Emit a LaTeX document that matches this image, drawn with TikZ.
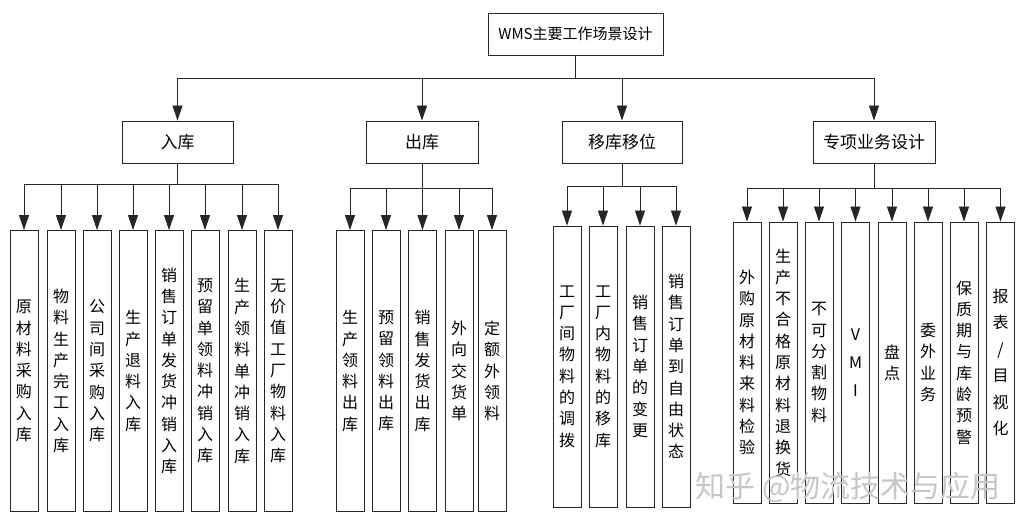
\documentclass[tikz,border=0pt]{standalone}
\usepackage{fontspec}
\newfontfamily\cjk{Noto Sans CJK SC}
\usetikzlibrary{arrows.meta}
\begin{document}
\begin{tikzpicture}[x=1pt,y=-1pt,
  box/.style={draw=black!85, line width=0.9pt, inner sep=0pt, minimum height=42pt, font=\cjk\fontsize{17}{20}\selectfont},
  leaf/.style={draw=black!85, line width=0.9pt, inner sep=0pt, minimum width=28pt, minimum height=281pt, align=center, font=\cjk\fontsize{16}{21.3}\selectfont},
  arr/.style={draw=black!85, line width=0.9pt, -{Triangle[width=10pt,length=15pt]}},
  wmark/.style={text=black!22, font=\cjk\fontsize{30}{32}\selectfont, inner sep=0pt}]
\useasboundingbox[fill=white] (0,0) rectangle (1031,526);

% root and level 2
\node[box, minimum width=175pt, font=\cjk\fontsize{15}{18}\selectfont] (root) at (575.5,34) {WMS主要工作场景设计};
\node[box, minimum width=111pt] (in)  at (177.5,142) {入库};
\node[box, minimum width=112pt] (out) at (422,142) {出库};
\node[box, minimum width=120pt] (mv)  at (622,142) {移库移位};
\node[box, minimum width=122pt] (sp)  at (874,142) {专项业务设计};

\foreach \c in {in,out,mv,sp} \draw[arr] (root.south) -- ++(0,23) -| (\c.north);

% 入库 leaves
\node[leaf] (i1) at (24,371)  {原\\材\\料\\采\\购\\入\\库};
\node[leaf] (i2) at (61,371)  {物\\料\\生\\产\\完\\工\\入\\库};
\node[leaf] (i3) at (97,371)  {公\\司\\间\\采\\购\\入\\库};
\node[leaf] (i4) at (133,371) {生\\产\\退\\料\\入\\库};
\node[leaf] (i5) at (169,371) {销\\售\\订\\单\\发\\货\\冲\\销\\入\\库};
\node[leaf] (i6) at (205,371) {预\\留\\单\\领\\料\\冲\\销\\入\\库};
\node[leaf] (i7) at (242,371) {生\\产\\领\\料\\单\\冲\\销\\入\\库};
\node[leaf] (i8) at (278,371) {无\\价\\值\\工\\厂\\物\\料\\入\\库};
\foreach \c in {i1,i2,i3,i4,i5,i6,i7,i8} \draw[arr] (in.south) -- ++(0,21) -| (\c.north);

% 出库 leaves
\node[leaf] (o1) at (350,371)   {生\\产\\领\\料\\出\\库};
\node[leaf] (o2) at (386,371)   {预\\留\\领\\料\\出\\库};
\node[leaf] (o3) at (422.5,371) {销\\售\\发\\货\\出\\库};
\node[leaf] (o4) at (459,371)   {外\\向\\交\\货\\单};
\node[leaf] (o5) at (492,371)   {定\\额\\外\\领\\料};
\foreach \c in {o1,o2,o3,o4,o5} \draw[arr] (out.south) -- ++(0,25) -| (\c.north);

% 移库移位 leaves
\node[leaf] (m1) at (567,366.5) {工\\厂\\间\\物\\料\\的\\调\\拨};
\node[leaf] (m2) at (603,366.5) {工\\厂\\内\\物\\料\\的\\移\\库};
\node[leaf] (m3) at (640,366.5) {销\\售\\订\\单\\的\\变\\更};
\node[leaf] (m4) at (676,366.5) {销\\售\\订\\单\\到\\自\\由\\状\\态};
\foreach \c in {m1,m2,m3,m4} \draw[arr] (mv.south) -- ++(0,23) -| (\c.north);

% 专项业务设计 leaves
\node[leaf] (s1) at (747,362.5)   {外\\购\\原\\材\\料\\来\\料\\检\\验};
\node[leaf] (s2) at (783,362.5)   {生\\产\\不\\合\\格\\原\\材\\料\\退\\换\\货};
\node[leaf] (s3) at (819,362.5)   {不\\可\\分\\割\\物\\料};
\node[leaf, font=\cjk\fontsize{16}{28}\selectfont] (s4) at (855.5,362.5) {V\\M\\I};
\node[leaf] (s5) at (892,362.5)   {盘\\点};
\node[leaf] (s6) at (928,362.5)   {委\\外\\业\\务};
\node[leaf] (s7) at (964,362.5)   {保\\质\\期\\与\\库\\龄\\预\\警};
\node[leaf, font=\cjk\fontsize{16}{26.5}\selectfont] (s8) at (1000.5,362.5) {报\\表\\/\\目\\视\\化};
\foreach \c in {s1,s2,s3,s4,s5,s6,s7,s8} \draw[arr] (sp.south) -- ++(0,25) -| (\c.north);

% watermark
\node[wmark] (wm) at (848,487) {知乎 @物流技术与应用};
\end{tikzpicture}
\end{document}
